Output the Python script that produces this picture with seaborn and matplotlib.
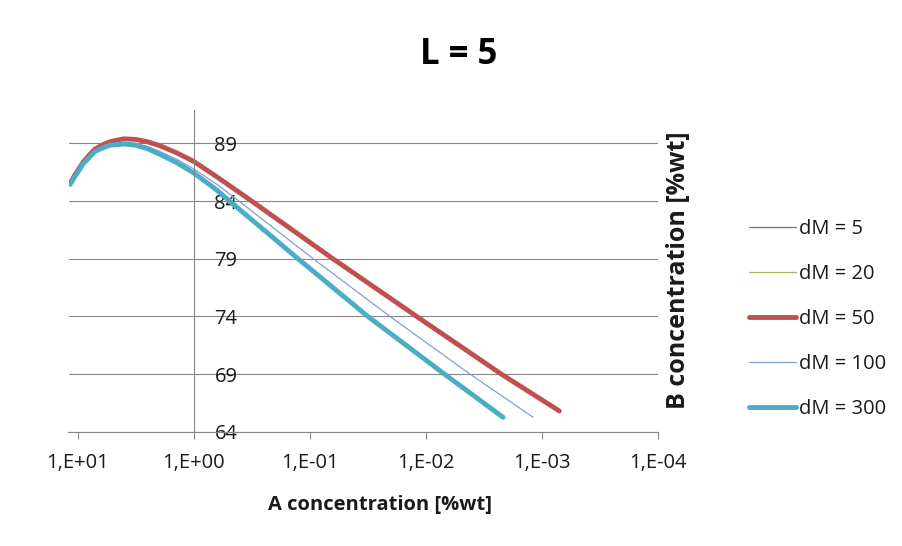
import numpy as np
import pandas as pd
import matplotlib
matplotlib.use("Agg")
import matplotlib.pyplot as plt
import seaborn as sns

# A concentration [%wt] (x) and B concentration [%wt] (y)
a_dm50 = [11.6, 10.5, 8.9, 7.9, 7.1, 6.03, 5.25, 4.0, 3.16, 2.51, 1.95, 1.41, 1.0, 0.63, 0.316, 0.0631, 0.0120, 0.00224, 0.000708]
b_dm50 = [85.5, 86.3, 87.4, 88.0, 88.5, 88.9, 89.15, 89.4, 89.35, 89.15, 88.8, 88.2, 87.45, 86.1, 84.0, 79.0, 74.0, 69.0, 65.8]

a_dm100 = [11.6, 10.5, 8.9, 7.9, 7.1, 6.03, 5.25, 4.0, 3.16, 2.51, 1.95, 1.41, 1.0, 0.63, 0.407, 0.0933, 0.0204, 0.00417, 0.00119]
b_dm100 = [85.45, 86.2, 87.3, 87.85, 88.35, 88.7, 88.95, 89.1, 89.0, 88.75, 88.3, 87.65, 86.8, 85.45, 84.0, 79.0, 74.0, 69.0, 65.25]

a_dm300 = [11.6, 10.5, 8.9, 7.9, 7.1, 6.03, 5.25, 4.0, 3.16, 2.51, 1.95, 1.41, 1.0, 0.63, 0.490, 0.126, 0.0316, 0.00692, 0.00216]
b_dm300 = [85.45, 86.15, 87.25, 87.8, 88.3, 88.62, 88.85, 88.95, 88.85, 88.55, 88.05, 87.35, 86.45, 84.95, 84.0, 79.0, 74.0, 69.0, 65.25]

# dM = 5 and dM = 20 lie under the dM = 50 curve
a_dm5, b_dm5 = a_dm50, b_dm50
a_dm20, b_dm20 = a_dm50, b_dm50

series_labels = ["dM = 5", "dM = 20", "dM = 50", "dM = 100", "dM = 300"]
series_x = [a_dm5, a_dm20, a_dm50, a_dm100, a_dm300]
series_y = [b_dm5, b_dm20, b_dm50, b_dm100, b_dm300]
series_colors = ["#8064A2", "#9BBB59", "#C0504D", "#7F9FD8", "#4BACC6"]
series_widths = [0.9, 0.9, 3.5, 0.9, 3.5]

x_ticks = [10, 1, 0.1, 0.01, 0.001, 0.0001]
x_ticklabels = ["1,E+01", "1,E+00", "1,E-01", "1,E-02", "1,E-03", "1,E-04"]
y_ticks = [64, 69, 74, 79, 84, 89]

sns.set_theme(style="white")
plt.rcParams["font.family"] = ["Open Sans", "DejaVu Sans"]

grey = "#868686"
ink = "#1a1a1a"

fig = plt.figure(figsize=(9.03, 5.46), dpi=100)
ax = fig.add_axes([68.5 / 903, 1 - 431.7 / 546, 589.5 / 903, 321.7 / 546])
ax.set_xscale("log")

for lab, xs, ys, col, lw in zip(series_labels, series_x, series_y, series_colors, series_widths):
    df = pd.DataFrame({"A": xs, "B": ys})
    sns.lineplot(data=df, x="A", y="B", ax=ax, color=col, linewidth=lw,
                 label=lab, sort=False, solid_capstyle="round",
                 solid_joinstyle="round")

ax.set_xlim(11.96, 0.0001)
ax.set_ylim(64, 91.9)

ax.xaxis.set_major_locator(matplotlib.ticker.FixedLocator(x_ticks))
ax.xaxis.set_minor_locator(matplotlib.ticker.NullLocator())
ax.set_xticklabels(x_ticklabels)
ax.set_yticks(y_ticks)
ax.set_yticklabels([str(v) for v in y_ticks])

for y in y_ticks:
    ax.axhline(y, color=grey, lw=0.8, zorder=0)

for s in ["top", "left"]:
    ax.spines[s].set_visible(False)
ax.spines["bottom"].set_color(grey)
ax.spines["bottom"].set_linewidth(0.8)
ax.spines["right"].set_position(("data", 1.0))
ax.spines["right"].set_color(grey)
ax.spines["right"].set_linewidth(0.8)

ax.yaxis.tick_right()
ax.tick_params(axis="y", length=0, pad=15, labelsize=14.5, labelcolor=ink)
ax.tick_params(axis="x", direction="out", length=5, width=0.8, color=grey,
               pad=10, labelsize=14.5, labelcolor=ink, bottom=True)

ax.set_xlabel("")
ax.set_ylabel("")
fig.text(380 / 903, 1 - 505 / 546, "A concentration [%wt]", ha="center", va="center",
         fontsize=14.5, fontweight="bold", color=ink)
fig.text(678 / 903, 1 - 270 / 546, "B concentration [%wt]", ha="center", va="center",
         rotation=90, fontsize=18, fontweight="bold", color=ink)
fig.text(459 / 903, 1 - 55 / 546, "L = 5", ha="center", va="center",
         fontsize=25, fontweight="bold", color="#000000")

ax.legend(loc="center left", bbox_to_anchor=(731 / 903, 1 - 319 / 546),
          bbox_transform=fig.transFigure, frameon=False, fontsize=14.5,
          handlelength=2.35, handletextpad=0.15, labelspacing=1.25)
for txt in ax.get_legend().get_texts():
    txt.set_color(ink)

fig.savefig("out.png", dpi=100)
